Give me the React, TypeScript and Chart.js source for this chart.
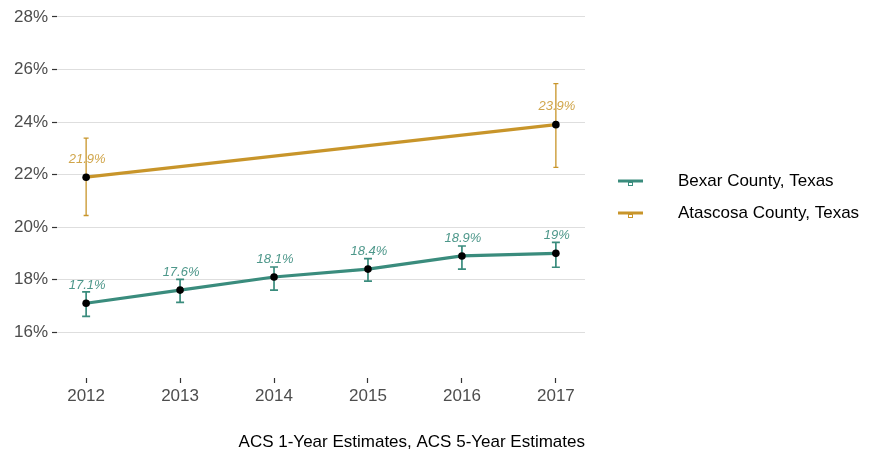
import { useEffect, useRef } from "react";
import { Chart, registerables } from "chart.js";

Chart.register(...registerables);

// Years and estimates (percent) with margin-of-error bounds
const years = [2012, 2013, 2014, 2015, 2016, 2017];
const bexarValues = [17.1, 17.6, 18.1, 18.4, 18.9, 19.0];
const bexarLower = [16.6, 17.13, 17.6, 17.94, 18.4, 18.47];
const bexarUpper = [17.53, 18.01, 18.48, 18.8, 19.28, 19.42];

const atascosaYears = [2012, 2017];
const atascosaValues = [21.9, 23.9];
const atascosaLower = [20.44, 22.27];
const atascosaUpper = [23.39, 25.46];

const yTicks = [16, 18, 20, 22, 24, 26, 28];
const seriesNames = ["Bexar County, Texas", "Atascosa County, Texas"];
const caption = "ACS 1-Year Estimates, ACS 5-Year Estimates";

const TEAL = "#3A8C7D";
const GOLD = "#C8952A";
const FONT = "'Liberation Sans', Arial, sans-serif";

const fmtPct = (v: number) => `${+v.toFixed(1)}%`;

type Series = {
  xs: number[];
  ys: number[];
  lo: number[];
  hi: number[];
  color: string;
  labelColor: string;
  cap: number;
  barWidth: number;
};

const series: Series[] = [
  {
    xs: years,
    ys: bexarValues,
    lo: bexarLower,
    hi: bexarUpper,
    color: TEAL,
    labelColor: "rgba(58,140,125,0.9)",
    cap: 4,
    barWidth: 1.7,
  },
  {
    xs: atascosaYears,
    ys: atascosaValues,
    lo: atascosaLower,
    hi: atascosaUpper,
    color: GOLD,
    labelColor: "rgba(200,149,42,0.85)",
    cap: 2.5,
    barWidth: 1.3,
  },
];

const decorations = {
  id: "decorations",
  beforeDatasetsDraw(chart: any) {
    const { ctx, scales } = chart;
    const x = scales.x;
    const y = scales.y;
    ctx.save();
    series.forEach((s) => {
      ctx.strokeStyle = s.color;
      ctx.lineWidth = s.barWidth;
      s.xs.forEach((xv, i) => {
        const px = x.getPixelForValue(xv);
        const top = y.getPixelForValue(s.hi[i]);
        const bot = y.getPixelForValue(s.lo[i]);
        ctx.beginPath();
        ctx.moveTo(px, top);
        ctx.lineTo(px, bot);
        ctx.moveTo(px - s.cap, top);
        ctx.lineTo(px + s.cap, top);
        ctx.moveTo(px - s.cap, bot);
        ctx.lineTo(px + s.cap, bot);
        ctx.stroke();
      });
    });
    ctx.restore();
  },
  afterDatasetsDraw(chart: any) {
    const { ctx, scales } = chart;
    const x = scales.x;
    const y = scales.y;
    ctx.save();
    ctx.font = `italic 13px ${FONT}`;
    ctx.textAlign = "center";
    ctx.textBaseline = "middle";
    series.forEach((s) => {
      ctx.fillStyle = s.labelColor;
      s.xs.forEach((xv, i) => {
        const px = x.getPixelForValue(xv);
        const py = y.getPixelForValue(s.ys[i]);
        ctx.fillText(fmtPct(s.ys[i]), px + 1, py - 18);
      });
    });
    ctx.restore();
  },
  afterDraw(chart: any) {
    const { ctx, chartArea } = chart;
    ctx.save();
    // legend
    const keyY = [181, 213];
    series.forEach((s, i) => {
      const yy = keyY[i];
      ctx.strokeStyle = s.color;
      ctx.lineWidth = 3;
      ctx.beginPath();
      ctx.moveTo(618, yy);
      ctx.lineTo(643, yy);
      ctx.stroke();
      ctx.lineWidth = 1;
      ctx.strokeRect(628.5, yy + 1.5, 4, 3);
      ctx.fillStyle = "#000";
      ctx.font = `17px ${FONT}`;
      ctx.textAlign = "left";
      ctx.textBaseline = "middle";
      ctx.fillText(seriesNames[i], 678, yy);
    });
    // caption
    ctx.fillStyle = "#000";
    ctx.font = `17px ${FONT}`;
    ctx.textAlign = "right";
    ctx.textBaseline = "alphabetic";
    ctx.fillText(caption, chartArea.right, 447);
    ctx.restore();
  },
};

export default function App() {
  const ref = useRef<HTMLCanvasElement | null>(null);

  useEffect(() => {
    document.body.style.margin = "0";
    const canvas = ref.current;
    if (!canvas) return;
    const chart = new Chart(canvas, {
      type: "line",
      data: {
        datasets: series.map((s, i) => ({
          label: seriesNames[i],
          data: s.xs.map((xv, j) => ({ x: xv, y: s.ys[j] })),
          borderColor: s.color,
          borderWidth: 3.2,
          pointRadius: 3.8,
          pointBackgroundColor: "#000",
          pointBorderColor: "#000",
          pointBorderWidth: 0,
          tension: 0,
          fill: false,
        })),
      },
      options: {
        animation: false,
        responsive: false,
        maintainAspectRatio: false,
        layout: { padding: { top: 8, right: 295, bottom: 0, left: 0 } },
        plugins: {
          legend: { display: false },
          tooltip: { enabled: false },
        },
        scales: {
          x: {
            type: "linear",
            min: 2011.69,
            max: 2017.31,
            afterBuildTicks: (scale: any) => {
              scale.ticks = years.map((v) => ({ value: v }));
            },
            afterFit: (scale: any) => {
              scale.height = 79;
            },
            grid: {
              drawOnChartArea: false,
              drawTicks: true,
              tickLength: 5,
              tickColor: "#333333",
              tickWidth: 1.2,
            },
            border: { display: false },
            ticks: {
              color: "#4D4D4D",
              font: { family: FONT, size: 17 },
              padding: 3,
              maxRotation: 0,
              callback: (v: any) => String(v),
            },
          },
          y: {
            type: "linear",
            min: 14.253,
            max: 28.106,
            afterBuildTicks: (scale: any) => {
              scale.ticks = yTicks.map((v) => ({ value: v }));
            },
            afterFit: (scale: any) => {
              scale.width = 57;
            },
            grid: {
              color: "#DEDEDE",
              lineWidth: 1,
              drawTicks: true,
              tickLength: 5,
              tickColor: "#333333",
              tickWidth: 1.2,
            },
            border: { display: false },
            ticks: {
              color: "#4D4D4D",
              font: { family: FONT, size: 17 },
              padding: 4,
              callback: (v: any) => `${v}%`,
            },
          },
        },
      },
      plugins: [decorations],
    });
    return () => chart.destroy();
  }, []);

  return (
    <div style={{ width: 880, height: 457, background: "#fff" }}>
      <canvas ref={ref} width={880} height={457} style={{ display: "block" }} />
    </div>
  );
}
